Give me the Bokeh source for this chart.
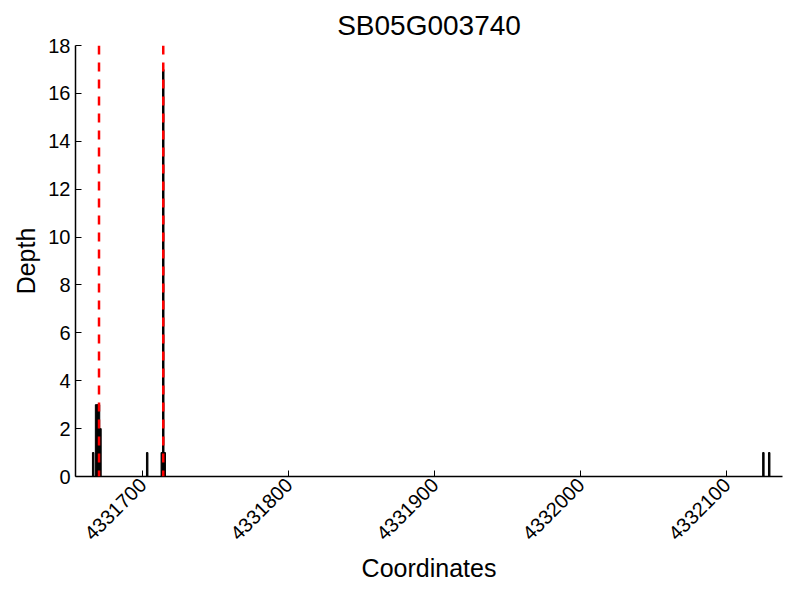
import math
from bokeh.plotting import figure
from bokeh.models import Span, FixedTicker, Range1d
from bokeh.embed import file_html
from bokeh.resources import INLINE

# Data
positions = [4331666, 4331668, 4331669, 4331670, 4331671, 4331703,
             4331713, 4331714, 4331715, 4332125, 4332129]
depths = [1, 3, 3, 3, 2, 1, 1, 17, 1, 1, 1]
marker_positions = [4331670, 4331714]
x_ticks = [4331700, 4331800, 4331900, 4332000, 4332100]
y_ticks = [0, 2, 4, 6, 8, 10, 12, 14, 16, 18]
title_text = "SB05G003740"

FONT = "Liberation Sans"

p = figure(width=790, height=590, output_backend="svg", toolbar_location=None,
           x_range=Range1d(4331653.9, 4332138.1), y_range=Range1d(0, 18),
           title=title_text)
p.min_border_left = 75
p.min_border_right = 8
p.min_border_top = 45
p.min_border_bottom = 114
p.outline_line_color = None
p.background_fill_color = "white"
p.border_fill_color = "white"
p.xgrid.visible = False
p.ygrid.visible = False

p.title.text_font = FONT
p.title.text_font_size = "28px"
p.title.text_font_style = "normal"
p.title.align = "center"
p.title.text_color = "black"

p.vbar(x=positions, width=1, top=depths, bottom=0,
       fill_color="black", line_color="black", line_width=1)

for m in marker_positions:
    p.add_layout(Span(location=m, dimension="height", line_color="red",
                      line_dash="9 8", line_width=2.5))

for ax in (p.xaxis[0], p.yaxis[0]):
    ax.axis_line_color = "black"
    ax.axis_line_width = 1.5
    ax.major_tick_in = 6
    ax.major_tick_out = 0
    ax.minor_tick_line_color = None
    ax.major_tick_line_color = "black"
    ax.major_tick_line_width = 1
    ax.major_label_text_font = FONT
    ax.major_label_text_font_size = "20px"
    ax.major_label_text_color = "black"
    ax.axis_label_text_font = FONT
    ax.axis_label_text_font_size = "25px"
    ax.axis_label_text_font_style = "normal"
    ax.axis_label_text_color = "black"

p.xaxis.ticker = FixedTicker(ticks=x_ticks)
p.yaxis.ticker = FixedTicker(ticks=y_ticks)
p.xaxis.major_label_orientation = math.pi / 4
p.xaxis.formatter.use_scientific = False
p.xaxis.axis_label = "Coordinates"
p.yaxis.axis_label = "Depth"
p.yaxis.axis_label_standoff = 5

open("out.html", "w").write(file_html(p, INLINE))
